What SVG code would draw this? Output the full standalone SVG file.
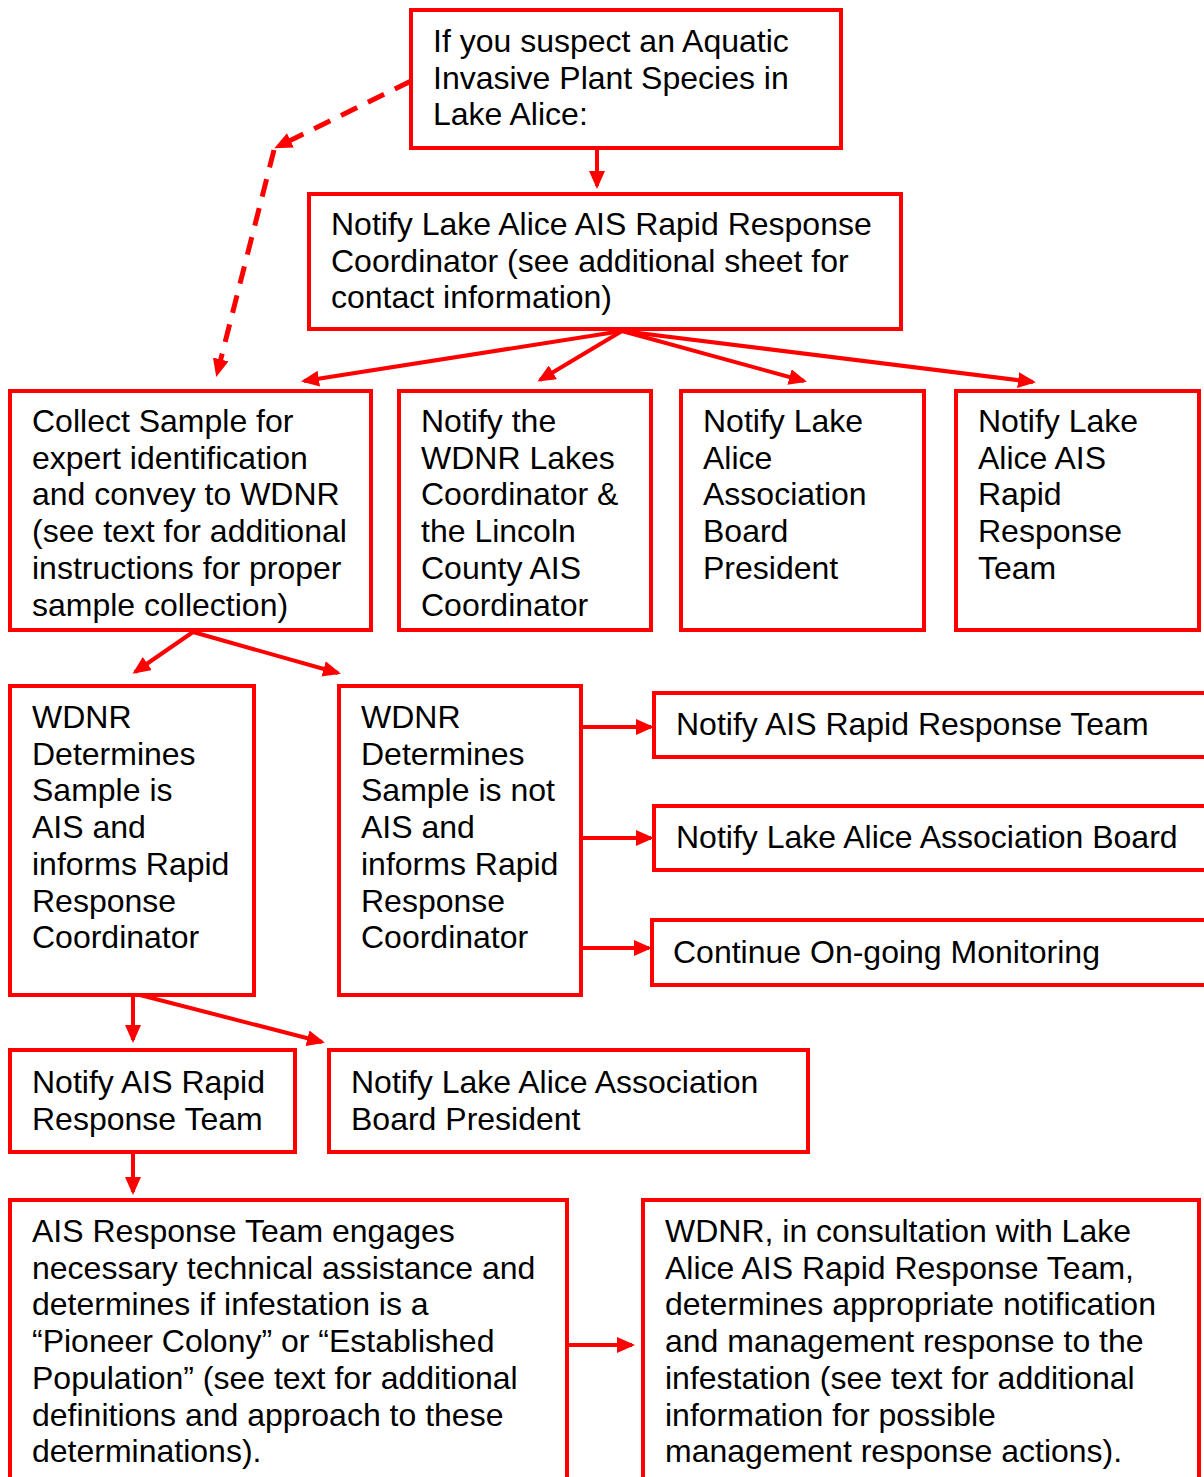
<svg xmlns="http://www.w3.org/2000/svg" width="1204" height="1477" viewBox="0 0 1204 1477">
<style>
.box{fill:#fff;stroke:#ff0000;stroke-width:4}
.t{font-family:"Liberation Sans",Arial,sans-serif;font-size:32px;fill:#000}
.c{stroke:#ff0000;stroke-width:4;fill:none;marker-end:url(#ah)}
.d{stroke-dasharray:18 12;stroke-width:5}
</style>
<defs>
<marker id="ah" markerUnits="userSpaceOnUse" markerWidth="18" markerHeight="16" refX="15" refY="8" orient="auto">
<path d="M0,0 L18,8 L0,16 z" fill="#ff0000"/>
</marker>
</defs>
<rect width="1204" height="1477" fill="#fff"/>
<g id="connectors">
<line class="c" x1="597" y1="148" x2="597" y2="186"/>
<line class="c d" x1="411" y1="81" x2="277" y2="147"/>
<line class="c d" x1="274" y1="150" x2="217" y2="374"/>
<line class="c" x1="622" y1="331" x2="304" y2="381"/>
<line class="c" x1="622" y1="331" x2="540" y2="380"/>
<line class="c" x1="622" y1="331" x2="804" y2="381"/>
<line class="c" x1="622" y1="331" x2="1033" y2="382"/>
<line class="c" x1="193" y1="632" x2="135" y2="672"/>
<line class="c" x1="193" y1="632" x2="338" y2="673"/>
<line class="c" x1="581" y1="727" x2="651" y2="727"/>
<line class="c" x1="581" y1="838" x2="651" y2="838"/>
<line class="c" x1="581" y1="948" x2="649" y2="948"/>
<line class="c" x1="133" y1="995" x2="133" y2="1040"/>
<line class="c" x1="140" y1="995" x2="322" y2="1042"/>
<line class="c" x1="133" y1="1152" x2="133" y2="1192"/>
<line class="c" x1="567" y1="1345" x2="632" y2="1345"/>
</g>
<g id="n1"><rect class="box" x="411" y="10" width="430" height="138"/>
<text class="t" x="433" y="52">If you suspect an Aquatic</text>
<text class="t" x="433" y="88.7">Invasive Plant Species in</text>
<text class="t" x="433" y="125.4">Lake Alice:</text></g>
<g id="n2"><rect class="box" x="309" y="194" width="592" height="135"/>
<text class="t" x="331" y="235">Notify Lake Alice AIS Rapid Response</text>
<text class="t" x="331" y="271.7">Coordinator (see additional sheet for</text>
<text class="t" x="331" y="308.4">contact information)</text></g>
<g id="n3"><rect class="box" x="10" y="391" width="361" height="239"/>
<text class="t" x="32" y="432">Collect Sample for</text>
<text class="t" x="32" y="468.7">expert identification</text>
<text class="t" x="32" y="505.4">and convey to WDNR</text>
<text class="t" x="32" y="542.1">(see text for additional</text>
<text class="t" x="32" y="578.8">instructions for proper</text>
<text class="t" x="32" y="615.5">sample collection)</text></g>
<g id="n4"><rect class="box" x="399" y="391" width="252" height="239"/>
<text class="t" x="421" y="432">Notify the</text>
<text class="t" x="421" y="468.7">WDNR Lakes</text>
<text class="t" x="421" y="505.4">Coordinator &amp;</text>
<text class="t" x="421" y="542.1">the Lincoln</text>
<text class="t" x="421" y="578.8">County AIS</text>
<text class="t" x="421" y="615.5">Coordinator</text></g>
<g id="n5"><rect class="box" x="681" y="391" width="243" height="239"/>
<text class="t" x="703" y="432">Notify Lake</text>
<text class="t" x="703" y="468.7">Alice</text>
<text class="t" x="703" y="505.4">Association</text>
<text class="t" x="703" y="542.1">Board</text>
<text class="t" x="703" y="578.8">President</text></g>
<g id="n6"><rect class="box" x="956" y="391" width="243" height="239"/>
<text class="t" x="978" y="432">Notify Lake</text>
<text class="t" x="978" y="468.7">Alice AIS</text>
<text class="t" x="978" y="505.4">Rapid</text>
<text class="t" x="978" y="542.1">Response</text>
<text class="t" x="978" y="578.8">Team</text></g>
<g id="n7"><rect class="box" x="10" y="686" width="244" height="309"/>
<text class="t" x="32" y="728">WDNR</text>
<text class="t" x="32" y="764.7">Determines</text>
<text class="t" x="32" y="801.4">Sample is</text>
<text class="t" x="32" y="838.1">AIS and</text>
<text class="t" x="32" y="874.8">informs Rapid</text>
<text class="t" x="32" y="911.5">Response</text>
<text class="t" x="32" y="948.2">Coordinator</text></g>
<g id="n8"><rect class="box" x="339" y="686" width="242" height="309"/>
<text class="t" x="361" y="728">WDNR</text>
<text class="t" x="361" y="764.7">Determines</text>
<text class="t" x="361" y="801.4">Sample is not</text>
<text class="t" x="361" y="838.1">AIS and</text>
<text class="t" x="361" y="874.8">informs Rapid</text>
<text class="t" x="361" y="911.5">Response</text>
<text class="t" x="361" y="948.2">Coordinator</text></g>
<g id="n9"><rect class="box" x="654" y="693" width="560" height="64"/>
<text class="t" x="676" y="735">Notify AIS Rapid Response Team</text></g>
<g id="n10"><rect class="box" x="654" y="806" width="560" height="64"/>
<text class="t" x="676" y="848">Notify Lake Alice Association Board</text></g>
<g id="n11"><rect class="box" x="652" y="920" width="562" height="65"/>
<text class="t" x="673" y="963">Continue On-going Monitoring</text></g>
<g id="n12"><rect class="box" x="10" y="1050" width="285" height="102"/>
<text class="t" x="32" y="1093">Notify AIS Rapid</text>
<text class="t" x="32" y="1129.7">Response Team</text></g>
<g id="n13"><rect class="box" x="329" y="1050" width="479" height="102"/>
<text class="t" x="351" y="1093">Notify Lake Alice Association</text>
<text class="t" x="351" y="1129.7">Board President</text></g>
<g id="n14"><rect class="box" x="10" y="1200" width="557" height="300"/>
<text class="t" x="32" y="1242">AIS Response Team engages</text>
<text class="t" x="32" y="1278.7">necessary technical assistance and</text>
<text class="t" x="32" y="1315.4">determines if infestation is a</text>
<text class="t" x="32" y="1352.1">“Pioneer Colony” or “Established</text>
<text class="t" x="32" y="1388.8">Population” (see text for additional</text>
<text class="t" x="32" y="1425.5">definitions and approach to these</text>
<text class="t" x="32" y="1462.2">determinations).</text></g>
<g id="n15"><rect class="box" x="643" y="1200" width="556" height="300"/>
<text class="t" x="665" y="1242">WDNR, in consultation with Lake</text>
<text class="t" x="665" y="1278.7">Alice AIS Rapid Response Team,</text>
<text class="t" x="665" y="1315.4">determines appropriate notification</text>
<text class="t" x="665" y="1352.1">and management response to the</text>
<text class="t" x="665" y="1388.8">infestation (see text for additional</text>
<text class="t" x="665" y="1425.5">information for possible</text>
<text class="t" x="665" y="1462.2">management response actions).</text></g>
</svg>
